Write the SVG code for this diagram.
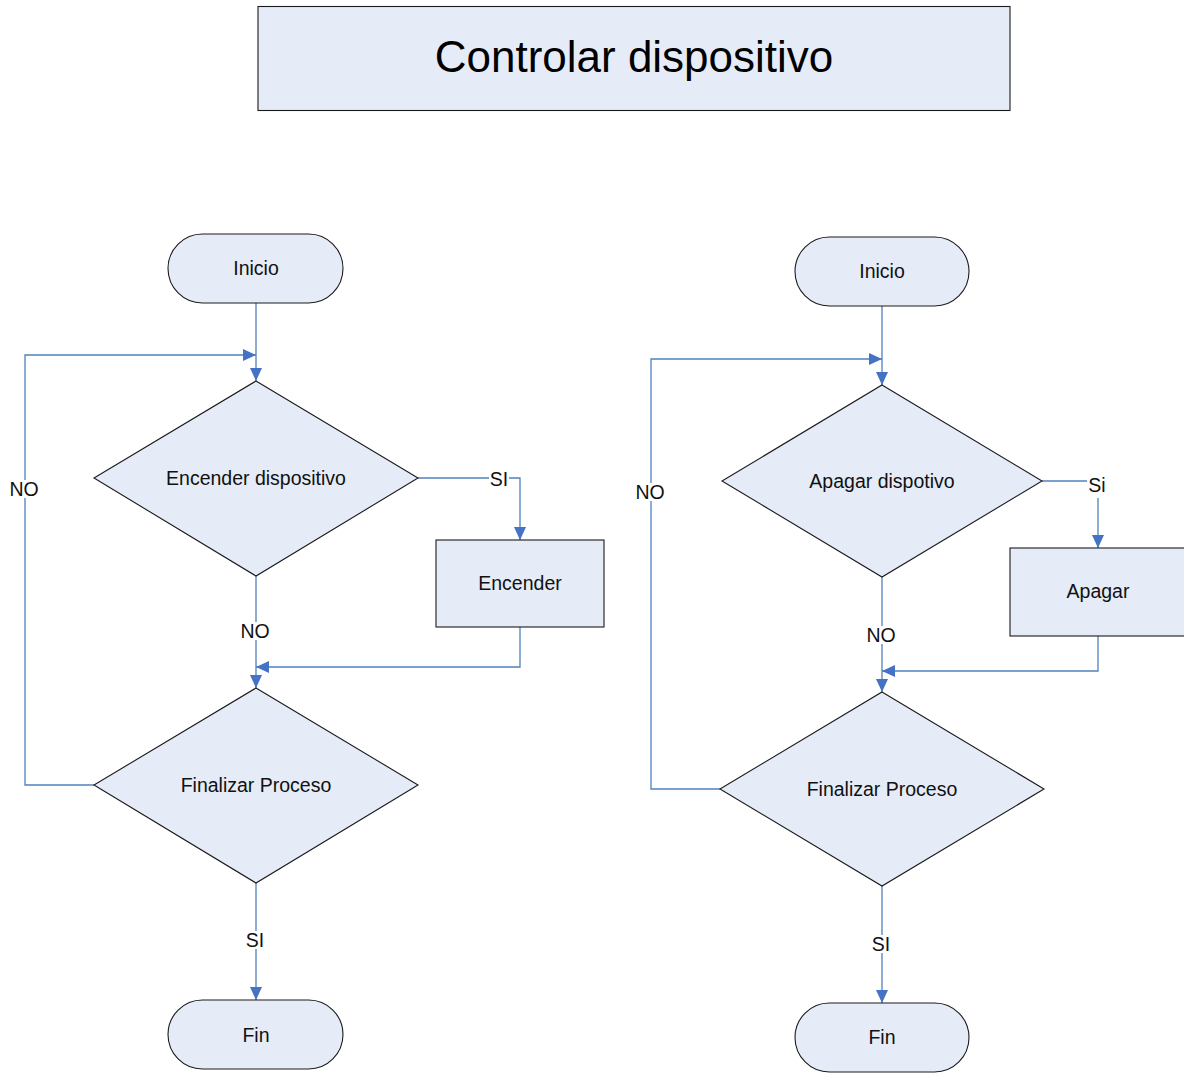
<svg xmlns="http://www.w3.org/2000/svg" width="1184" height="1073" viewBox="0 0 1184 1073">
  <style>
    .node { fill: #E6ECF7; stroke: #1a1a1a; stroke-width: 1.1; }
    .txt { font-family: "Liberation Sans", Arial, sans-serif; font-size: 19.5px; fill: #111; text-anchor: middle; }
    .title { font-family: "Liberation Sans", Arial, sans-serif; font-size: 44px; fill: #000; text-anchor: middle; }
    .wire { fill: none; stroke: #4F81BD; stroke-width: 1.3; }
    .lblbg { fill: #ffffff; }
  </style>
  <defs>
    <marker id="arrow" markerUnits="userSpaceOnUse" markerWidth="13" markerHeight="12" refX="13" refY="6" orient="auto">
      <path d="M0,0 L13,6 L0,12 z" fill="#4472C4"/>
    </marker>
  </defs>

  <rect width="1184" height="1073" fill="#ffffff"/>

  <!-- Title -->
  <g id="title">
    <rect class="node" x="258" y="6.5" width="752" height="104"/>
    <text class="title" x="634" y="72">Controlar dispositivo</text>
  </g>

  <!-- Connectors -->
  <g id="connectors">
    <!-- left flow -->
    <path class="wire" d="M256,303 V381" marker-end="url(#arrow)"/>
    <path class="wire" d="M94,785 H25 V355 H256" marker-end="url(#arrow)"/>
    <path class="wire" d="M418,478 H520 V540" marker-end="url(#arrow)"/>
    <path class="wire" d="M256,576 V688" marker-end="url(#arrow)"/>
    <path class="wire" d="M520,627 V667 H256" marker-end="url(#arrow)"/>
    <path class="wire" d="M256,883 V1000" marker-end="url(#arrow)"/>
    <!-- right flow -->
    <path class="wire" d="M882,306 V385" marker-end="url(#arrow)"/>
    <path class="wire" d="M720,789 H651 V359 H882" marker-end="url(#arrow)"/>
    <path class="wire" d="M1042,481 H1098 V548" marker-end="url(#arrow)"/>
    <path class="wire" d="M882,577 V692" marker-end="url(#arrow)"/>
    <path class="wire" d="M1098,636 V671 H882" marker-end="url(#arrow)"/>
    <path class="wire" d="M882,886 V1003" marker-end="url(#arrow)"/>

    <!-- connector labels -->
    <g id="labels">
      <rect class="lblbg" x="9" y="480" width="31" height="18"/>
      <text class="txt" x="24" y="496">NO</text>
      <rect class="lblbg" x="489" y="470" width="20" height="17"/>
      <text class="txt" x="499" y="486">SI</text>
      <rect class="lblbg" x="240" y="622" width="31" height="18"/>
      <text class="txt" x="255" y="638">NO</text>
      <rect class="lblbg" x="245" y="931" width="20" height="18"/>
      <text class="txt" x="255" y="947">SI</text>
      <rect class="lblbg" x="635" y="483" width="31" height="18"/>
      <text class="txt" x="650" y="499">NO</text>
      <rect class="lblbg" x="1087" y="476" width="21" height="22"/>
      <text class="txt" x="1097" y="492">Si</text>
      <rect class="lblbg" x="866" y="626" width="31" height="18"/>
      <text class="txt" x="881" y="642">NO</text>
      <rect class="lblbg" x="871" y="935" width="20" height="18"/>
      <text class="txt" x="881" y="951">SI</text>
    </g>
  </g>

  <!-- Left flow nodes -->
  <g id="inicio-1">
    <rect class="node" x="168" y="234" width="175" height="69" rx="34.5" ry="34.5"/>
    <text class="txt" x="256" y="275">Inicio</text>
  </g>
  <g id="encender-dispositivo">
    <polygon class="node" points="256,381 418,478 256,576 94,478"/>
    <text class="txt" x="256" y="485">Encender dispositivo</text>
  </g>
  <g id="encender">
    <rect class="node" x="436" y="540" width="168" height="87"/>
    <text class="txt" x="520" y="590">Encender</text>
  </g>
  <g id="finalizar-1">
    <polygon class="node" points="256,688 418,785 256,883 94,785"/>
    <text class="txt" x="256" y="792">Finalizar Proceso</text>
  </g>
  <g id="fin-1">
    <rect class="node" x="168" y="1000" width="175" height="69" rx="34.5" ry="34.5"/>
    <text class="txt" x="256" y="1042">Fin</text>
  </g>

  <!-- Right flow nodes -->
  <g id="inicio-2">
    <rect class="node" x="795" y="237" width="174" height="69" rx="34.5" ry="34.5"/>
    <text class="txt" x="882" y="278">Inicio</text>
  </g>
  <g id="apagar-dispotivo">
    <polygon class="node" points="882,385 1042,481 882,577 722,481"/>
    <text class="txt" x="882" y="488">Apagar dispotivo</text>
  </g>
  <g id="apagar">
    <rect class="node" x="1010" y="548" width="176" height="88"/>
    <text class="txt" x="1098" y="598">Apagar</text>
  </g>
  <g id="finalizar-2">
    <polygon class="node" points="882,692 1044,789 882,886 720,789"/>
    <text class="txt" x="882" y="796">Finalizar Proceso</text>
  </g>
  <g id="fin-2">
    <rect class="node" x="795" y="1003" width="174" height="69" rx="34.5" ry="34.5"/>
    <text class="txt" x="882" y="1044">Fin</text>
  </g>
</svg>
